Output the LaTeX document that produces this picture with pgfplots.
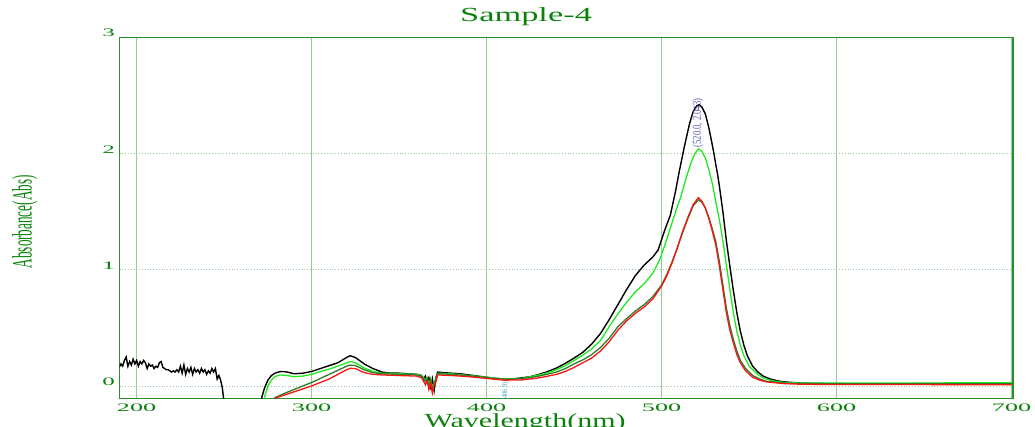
\documentclass[border=0pt]{standalone}
\usepackage{fontspec}
\setmainfont{Liberation Serif}
\usepackage{pgfplots}
\pgfplotsset{compat=1.18}
\definecolor{txtgreen}{RGB}{10,130,10}
\definecolor{framegreen}{RGB}{40,145,40}
\definecolor{gridgreen}{RGB}{150,205,150}
\definecolor{lime}{RGB}{30,235,30}
\definecolor{dkgreen}{RGB}{45,125,45}
\definecolor{myred}{RGB}{250,20,20}
\definecolor{peakblue}{RGB}{90,90,170}
\definecolor{teal2}{RGB}{80,165,170}

\begin{document}
\begin{tikzpicture}[x=1pt,y=1pt]
\begin{axis}[
    at={(119.5pt,28.7pt)}, anchor=south west,
    scale only axis,
    width=893.5pt, height=361pt,
    xmin=190.2, xmax=700.8,
    ymin=-0.106, ymax=3.0,
    xtick={200,300,400,500,600,700},
    ytick={0,1,2,3},
    tick style={draw=none},
    major tick length=0pt,
    grid=major,
    every axis x grid/.style={draw=gridgreen, line width=0.8pt},
    every axis y grid/.style={draw=gridgreen, line width=0.8pt, dotted},
    axis line style={draw=framegreen, line width=1.3pt},
    xticklabel={\scalebox{2.3}[1]{\fontsize{11.4}{12}\selectfont\pgfmathprintnumber[assume math mode=true]{\tick}}},
    yticklabel={\scalebox{2.2}[1]{\fontsize{11.4}{12}\selectfont\pgfmathprintnumber[assume math mode=true]{\tick}}},
    xticklabel style={text=txtgreen, anchor=north, inner sep=0pt, yshift=-5.5pt},
    yticklabel style={text=txtgreen, anchor=south east, inner sep=0pt, xshift=-4.5pt},
    title={\scalebox{1.72}[1]{\fontsize{20}{22}\selectfont Sample-4}},
    title style={text=txtgreen, at={(axis description cs:0.455,1.0258)}, anchor=base, inner sep=0pt},
    xlabel={\scalebox{1.5}[1]{\fontsize{20}{22}\selectfont Wavelength(nm)}},
    xlabel style={text=txtgreen, at={(axis description cs:0.454,-0.082)}, anchor=base, inner sep=0pt},
    ylabel={\scalebox{0.47}[1]{\fontsize{28}{30}\selectfont Absorbance(Abs)}},
    ylabel style={text=txtgreen, at={(axis description cs:-0.1058,0.489)}, anchor=center, inner sep=0pt},
]
% black
\addplot[black, line width=1.4pt] coordinates {
(190,0.16) (191,0.19) (192,0.17) (193,0.22) (194,0.25) (195,0.17) (196,0.21) (197,0.18) (198,0.23) (199,0.19)
(200,0.22) (201,0.17) (202,0.21) (203,0.19) (204,0.22) (205,0.20) (206,0.15) (207,0.19) (208,0.17) (209,0.18)
(210,0.15) (211,0.17) (212,0.16) (213,0.20) (214,0.21) (215,0.16) (216,0.15) (217,0.14) (218,0.14) (219,0.13)
(220,0.12) (221,0.13) (222,0.12) (223,0.14) (224,0.12) (225,0.17) (226,0.11) (227,0.18) (228,0.10) (229,0.15)
(230,0.12) (231,0.16) (232,0.10) (233,0.15) (234,0.12) (235,0.14) (236,0.11) (237,0.15) (238,0.12) (239,0.14)
(240,0.10) (241,0.13) (242,0.11) (243,0.15) (244,0.12) (245,0.15) (246,0.06) (247,0.09) (248,0.05) (249,-0.02)
(250,-0.15) (251,-0.3) (268,-0.3) (270,-0.2) (271.5,-0.1) (273,-0.02) (275,0.05) (277,0.09) (279,0.11) (281,0.12)
(283,0.125) (286,0.12) (290,0.105) (295,0.11) (300,0.125) (305,0.15) (310,0.175) (315,0.2) (320,0.245) (322,0.26)
(325,0.245) (330,0.19) (335,0.15) (340,0.12) (345,0.11) (350,0.11) (355,0.105) (360,0.1) (362,0.095) (364,0.06)
(365,0.085) (366,0.03) (367,0.07) (368,-0.01) (369,0.06) (370,-0.04) (371,0.07) (372,0.12) (375,0.115) (380,0.11)
(385,0.105) (390,0.095) (395,0.085) (400,0.075) (405,0.065) (410,0.06) (415,0.06) (420,0.07) (425,0.08) (430,0.1)
(435,0.125) (440,0.155) (445,0.195) (450,0.24) (455,0.29) (460,0.36) (465,0.45) (470,0.57) (475,0.70) (480,0.83)
(485,0.95) (490,1.04) (495,1.11) (498,1.17) (500,1.26) (502,1.35) (505,1.47) (508,1.68) (510,1.84) (513,2.06)
(516,2.26) (518,2.36) (520,2.41) (521.5,2.42) (523,2.40) (525,2.34) (527,2.22) (529,2.07) (530,1.99) (531,1.90)
(532,1.82) (533,1.72) (535,1.5) (537,1.25) (539,1.03) (541,0.82) (543,0.63) (545,0.47) (547,0.35) (549,0.26)
(552,0.17) (555,0.12) (558,0.085) (562,0.06) (566,0.045) (570,0.035) (580,0.025) (600,0.02) (620,0.018) (650,0.02)
(680,0.02) (700,0.02)
};
% bright green
\addplot[lime, line width=1.3pt] coordinates {
(272,-0.2) (273,-0.1) (275,0.0) (277,0.05) (279,0.08) (282,0.095) (286,0.09) (290,0.08) (295,0.085) (300,0.1)
(305,0.125) (310,0.145) (315,0.17) (320,0.2) (322,0.21) (325,0.2) (330,0.155) (335,0.125) (340,0.11) (350,0.105)
(360,0.1) (363,0.09) (365,0.05) (366,0.075) (367,0.01) (368,0.06) (369,-0.03) (370,0.04) (371,0.06) (372,0.11)
(380,0.105) (390,0.09) (400,0.075) (410,0.06) (420,0.065) (430,0.095) (435,0.115) (440,0.14) (445,0.175) (450,0.22)
(455,0.265) (460,0.32) (465,0.39) (470,0.51) (475,0.62) (480,0.72) (485,0.81) (490,0.88) (495,0.97) (499,1.09)
(502,1.22) (505,1.36) (508,1.5) (511,1.63) (514,1.79) (517,1.93) (519,2.0) (521,2.04) (523,2.02) (525,1.96)
(527,1.86) (529,1.74) (531,1.58) (533,1.43) (535,1.25) (537,1.04) (539,0.83) (541,0.63) (543,0.47) (545,0.35)
(547,0.26) (550,0.17) (554,0.11) (558,0.07) (563,0.045) (570,0.03) (580,0.025) (600,0.025) (650,0.026) (700,0.028)
};
% dark green
\addplot[dkgreen, line width=1.3pt] coordinates {
(278,-0.12) (279,-0.1) (285,-0.06) (290,-0.03) (295,0.0) (300,0.03) (305,0.065) (310,0.1) (315,0.135) (320,0.17)
(322,0.18) (325,0.175) (330,0.14) (335,0.115) (340,0.105) (350,0.1) (360,0.095) (363,0.085) (365,0.04) (366,0.065)
(367,-0.01) (368,0.05) (369,-0.05) (370,0.03) (371,0.05) (372,0.105) (380,0.1) (390,0.088) (400,0.072) (410,0.058)
(420,0.062) (430,0.085) (440,0.12) (445,0.15) (450,0.19) (455,0.225) (460,0.27) (465,0.33) (470,0.41) (475,0.51)
(480,0.58) (485,0.645) (490,0.70) (495,0.77) (500,0.87) (503,0.96) (506,1.07) (509,1.19) (512,1.32) (515,1.44)
(518,1.55) (521,1.60) (523,1.58) (525,1.53) (527,1.45) (529,1.35) (531,1.24) (533,1.07) (535,0.87) (537,0.67)
(539,0.52) (541,0.4) (543,0.3) (545,0.22) (548,0.15) (552,0.09) (556,0.06) (560,0.04) (570,0.025) (580,0.02)
(600,0.02) (650,0.02) (700,0.02)
};
% red
\addplot[myred, line width=1.3pt] coordinates {
(279,-0.12) (280,-0.1) (285,-0.075) (290,-0.05) (295,-0.025) (300,0.0) (305,0.03) (310,0.06) (315,0.1) (320,0.14)
(322,0.152) (325,0.15) (330,0.115) (335,0.1) (340,0.095) (350,0.09) (360,0.085) (363,0.07) (365,0.01) (366,0.045)
(367,-0.03) (368,0.03) (369,-0.06) (370,0.01) (371,0.035) (372,0.095) (380,0.09) (390,0.08) (400,0.065) (410,0.05)
(420,0.052) (430,0.07) (440,0.1) (445,0.125) (450,0.16) (455,0.2) (460,0.24) (465,0.30) (470,0.38) (475,0.48)
(480,0.56) (485,0.625) (490,0.68) (495,0.75) (500,0.86) (503,0.95) (506,1.06) (509,1.19) (512,1.33) (515,1.45)
(518,1.56) (521,1.62) (523,1.59) (525,1.53) (527,1.44) (529,1.33) (531,1.21) (533,1.03) (535,0.83) (537,0.63)
(539,0.48) (541,0.37) (543,0.27) (545,0.2) (548,0.13) (552,0.075) (556,0.05) (560,0.035) (570,0.02) (580,0.015)
(600,0.012) (650,0.012) (700,0.01)
};
\node[rotate=90, anchor=west, inner sep=0pt, text=peakblue]
  at (axis cs:520.8,2.05) {\scalebox{0.72}[1]{\fontsize{12}{13}\selectfont (520.0, 2.043)}};
\node[rotate=90, anchor=east, inner sep=0pt, text=teal2]
  at (axis cs:410.8,0.037) {\scalebox{0.8}[1]{\fontsize{8}{9}\selectfont (406.9)}};
\end{axis}
\pgfresetboundingbox
\useasboundingbox (0,0) rectangle (1035pt,427pt);
\end{tikzpicture}
\end{document}
